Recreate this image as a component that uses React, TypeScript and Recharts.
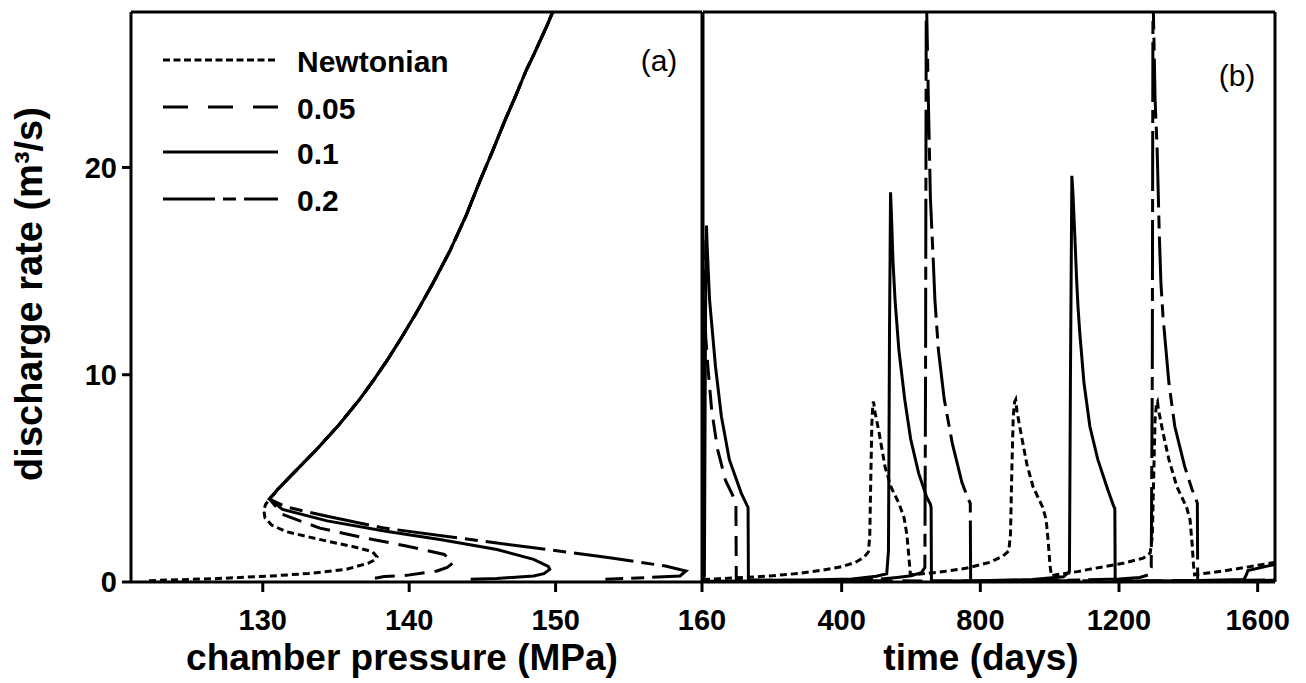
import React from 'react';
import { LineChart, Line, XAxis, YAxis, ReferenceLine, Legend } from 'recharts';

const FONT = '"Liberation Sans", Arial, Helvetica, sans-serif';

// ---------- labels / ticks ----------
const seriesNames = ['Newtonian', '0.05', '0.1', '0.2'];
const pressureTicks = [130, 140, 150, 160];
const timeTicks = [0, 400, 800, 1200, 1600];
const rateTicks = [0, 10, 20];

// ---------- panel (a): discharge rate vs chamber pressure [MPa, m3/s] ----------
const upperBranch: [number, number][] = [
  [150.1, 28.0], [149.8, 27.5], [149.45, 26.9], [149.0, 26.2], [148.55, 25.5], [148.0, 24.7],
  [147.3, 23.5], [146.5, 22.2], [145.7, 20.8], [144.86, 19.4], [143.9, 17.7], [142.8, 16.0],
  [141.65, 14.45], [140.5, 13.0], [139.5, 11.82], [138.5, 10.7], [137.55, 9.72], [136.6, 8.8],
  [135.2, 7.58], [133.66, 6.38], [131.87, 5.09], [131.0, 4.45], [130.46, 4.0],
];
const newtonianLower: [number, number][] = [
  [130.2, 3.75], [130.07, 3.48], [130.15, 3.1], [130.6, 2.75], [131.6, 2.43], [133.7, 2.08],
  [136.2, 1.7], [137.5, 1.46], [137.8, 1.22], [137.6, 1.05], [137.25, 0.92], [135.7, 0.61],
  [133.1, 0.41], [130.6, 0.29], [126.7, 0.16], [122.9, 0.08], [122.1, 0.05],
];
const n005Lower: [number, number][] = [
  [131.35, 3.26], [133.9, 2.6], [137.0, 2.12], [139.8, 1.74], [142.4, 1.33], [143.0, 0.93],
  [142.6, 0.7], [141.9, 0.53], [139.8, 0.32], [138.3, 0.26], [137.25, 0.13],
];
const n01Lower: [number, number][] = [
  [131.35, 3.5], [134.4, 2.95], [138.3, 2.46], [142.1, 2.05], [146.0, 1.57], [148.5, 1.09],
  [149.5, 0.75], [149.6, 0.61], [149.2, 0.4], [148.5, 0.29], [146.0, 0.17], [144.2, 0.13],
];
const n02Lower: [number, number][] = [
  [131.6, 3.62], [134.4, 3.17], [138.3, 2.6], [143.4, 2.12], [148.5, 1.65], [153.7, 1.17],
  [157.5, 0.77], [158.9, 0.53], [158.5, 0.29], [156.2, 0.21], [153.4, 0.13],
];

// ---------- panel (b): discharge rate vs time [days, m3/s] ----------
const newtonianTime: [number, number][] = [
  [0, 0.12], [60, 0.17], [120, 0.22], [200, 0.3], [280, 0.42], [340, 0.56], [400, 0.74],
  [440, 0.95], [465, 1.2], [477, 1.45], [481, 2.2], [484, 5.0], [487, 7.6], [490, 8.6],
  [492, 8.7], [495, 8.3], [508, 7.2], [525, 5.57], [542, 4.6], [565, 3.8], [580, 3.1],
  [588, 2.3], [594, 1.2], [598, 0.4], [605, 0.35], [650, 0.42], [700, 0.52], [758, 0.66],
  [828, 0.95], [865, 1.25], [882, 1.5], [887, 2.3], [891, 5.5], [895, 8.0], [899, 8.7],
  [902, 8.8], [906, 8.2], [917, 7.2], [934, 5.7], [952, 4.6], [980, 3.6], [990, 3.0],
  [996, 1.9], [1001, 0.8], [1005, 0.3], [1030, 0.38], [1080, 0.5], [1116, 0.62], [1212, 0.9],
  [1270, 1.15], [1290, 1.4], [1296, 2.2], [1300, 5.0], [1304, 7.8], [1308, 8.6], [1311, 8.7],
  [1314, 8.3], [1327, 7.2], [1344, 5.9], [1367, 4.6], [1395, 3.6], [1405, 3.0], [1411, 1.8],
  [1415, 0.8], [1418, 0.35], [1450, 0.42], [1500, 0.53], [1577, 0.74], [1650, 0.95],
];
const n005Time: [number, number][] = [
  [0, 16.5], [3, 13.8], [8, 11.8], [14, 10.4], [25, 8.3], [42, 6.4], [65, 4.9], [88, 4.1],
  [95, 3.7], [96, 0.1], [400, 0.06], [800, 0.05], [1200, 0.06], [1650, 0.08],
];
const n01Time: [number, number][] = [
  [0, 0.1], [4, 0.3], [6, 8], [8, 15], [10, 17.2], [12, 16.2], [19, 13.6], [36, 10.4],
  [53, 8.0], [76, 5.9], [110, 4.3], [127, 3.7], [130, 3.6], [131, 0.08], [300, 0.1],
  [430, 0.15], [500, 0.28], [530, 0.4], [535, 1.5], [538, 12], [541, 18.8], [544, 17.5],
  [548, 15.5], [554, 13.6], [565, 11.2], [582, 8.8], [599, 6.9], [622, 5.25], [645, 4.1],
  [656, 3.75], [658, 3.6], [659, 0.05], [800, 0.06], [950, 0.12], [1040, 0.25], [1057, 0.5],
  [1060, 10], [1064, 19.6], [1067, 18.8], [1072, 16.9], [1078, 14.5], [1082, 13.2],
  [1087, 12.0], [1099, 9.6], [1116, 7.5], [1139, 5.9], [1168, 4.44], [1185, 3.64],
  [1188, 3.55], [1189, 0.05], [1400, 0.06], [1560, 0.12], [1566, 0.3], [1572, 0.55],
  [1650, 0.85],
];
const n02Time: [number, number][] = [
  [0, 0.04], [300, 0.06], [500, 0.12], [560, 0.22], [600, 0.3], [630, 0.45], [640, 0.7],
  [642, 10], [644, 28.5], [646, 27], [650, 23.3], [656, 18.5], [665, 15.2], [669, 13.6],
  [679, 11.2], [696, 8.8], [719, 6.7], [747, 4.8], [765, 4.0], [771, 3.8], [772, 0.05],
  [950, 0.07], [1100, 0.1], [1200, 0.15], [1260, 0.22], [1285, 0.35], [1293, 0.7],
  [1296, 10], [1298, 28.5], [1301, 26], [1304, 23.3], [1310, 20.9], [1316, 16.9],
  [1321, 14.4], [1327, 12.8], [1344, 9.6], [1361, 7.5], [1389, 5.6], [1410, 4.5],
  [1422, 4.0], [1426, 3.8], [1427, 0.05], [1650, 0.1],
];

// ---------- build series ----------
const toPQ = (pts: [number, number][]) => pts.map(([p, q]) => ({ p, q }));
const toTQ = (pts: [number, number][]) => pts.map(([t, q]) => ({ t, q }));

const pressureSeries = [
  toPQ([...upperBranch, ...newtonianLower]),
  toPQ([...upperBranch, ...n005Lower]),
  toPQ([...upperBranch, ...n01Lower]),
  toPQ([...upperBranch, ...n02Lower]),
];
const timeSeries = [toTQ(newtonianTime), toTQ(n005Time), toTQ(n01Time), toTQ(n02Time)];

// ---------- styles ----------
const plotDash = ['7 4', '20 10', undefined, '60 8 13 8'];
const legendDash = ['7 3.5', '25 20', undefined, '52 8 13 8 60'];
const LW = 3;
const tickStyle = { fontSize: 29, fontWeight: 700, fill: '#000', fontFamily: FONT };
const axisLineStyle = { stroke: '#000', strokeWidth: LW };
const titleStyle: React.CSSProperties = { fontSize: 37, fontWeight: 700, fontFamily: FONT };

const LegendA = () => {
  const rows = [30, 77, 122, 169];
  return (
    <svg width={560} height={200} style={{ overflow: 'visible', display: 'block' }}>
      {seriesNames.map((name, i) => (
        <g key={name}>
          <line x1={13} x2={128} y1={rows[i]} y2={rows[i]} stroke="#000" strokeWidth={LW}
            strokeDasharray={legendDash[i]} />
          <text x={147} y={rows[i] + 11.5} fontSize={30} fontWeight={700} fontFamily={FONT} fill="#000">
            {name}
          </text>
        </g>
      ))}
      <text x={509} y={41} fontSize={30} fontFamily={FONT} fill="#000" textAnchor="middle">(a)</text>
    </svg>
  );
};

const LegendB = () => (
  <svg width={100} height={80} style={{ overflow: 'visible', display: 'block' }}>
    <text x={39} y={56} fontSize={30} fontFamily={FONT} fill="#000" textAnchor="middle">(b)</text>
  </svg>
);

const XTitleA = () => (
  <text x={402} y={670} textAnchor="middle" fill="#000" style={titleStyle}>chamber pressure (MPa)</text>
);
const XTitleB = () => (
  <text x={283} y={670} textAnchor="middle" fill="#000" style={titleStyle}>time (days)</text>
);
const YTitle = () => (
  <text x={42} y={294} transform="rotate(-90, 42, 294)" textAnchor="middle" fill="#000"
    style={{ ...titleStyle, fontSize: 38 }}>
    discharge rate (m³/s)
  </text>
);

export default function App() {
  return (
    <div style={{ position: 'absolute', left: 0, top: 0, width: 1306, height: 683, background: '#fff' }}>
      <div style={{ position: 'absolute', left: 0, top: 0 }}>
        <LineChart width={740} height={683} margin={{ top: 12, right: 38, bottom: 0, left: 0 }}>
          <XAxis type="number" dataKey="p" domain={[121, 160]} ticks={pressureTicks} allowDataOverflow
            height={101} tickSize={10} tickMargin={17} tick={tickStyle} axisLine={axisLineStyle}
            tickLine={axisLineStyle} label={XTitleA} />
          <YAxis type="number" domain={[0, 27.5]} ticks={rateTicks} allowDataOverflow width={131}
            tickSize={9} tickMargin={5} tick={tickStyle} axisLine={axisLineStyle} tickLine={axisLineStyle}
            label={YTitle} />
          <ReferenceLine y={27.5} stroke="#000" strokeWidth={LW} />
          <ReferenceLine x={160} stroke="#000" strokeWidth={LW} />
          {pressureSeries.map((d, i) => (
            <Line key={seriesNames[i]} data={d} dataKey="q" type="linear" stroke="#000" strokeWidth={LW}
              strokeDasharray={plotDash[i]} dot={false} activeDot={false} isAnimationActive={false}
              name={seriesNames[i]} />
          ))}
          <Legend layout="horizontal" verticalAlign="middle" align="center" content={LegendA}
            wrapperStyle={{ position: 'absolute', left: 150, top: 30, width: 560, height: 200 }} />
        </LineChart>
      </div>
      <div style={{ position: 'absolute', left: 698, top: 0 }}>
        <LineChart width={608} height={683} margin={{ top: 12, right: 31, bottom: 0, left: 0 }}>
          <XAxis type="number" dataKey="t" domain={[0, 1650]} ticks={timeTicks} allowDataOverflow
            height={101} tickSize={10} tickMargin={17} tick={tickStyle} axisLine={axisLineStyle}
            tickLine={axisLineStyle} label={XTitleB} />
          <YAxis type="number" domain={[0, 27.5]} ticks={rateTicks} allowDataOverflow width={5}
            tick={false} tickLine={false} axisLine={axisLineStyle} />
          <ReferenceLine y={27.5} stroke="#000" strokeWidth={LW} />
          <ReferenceLine x={1650} stroke="#000" strokeWidth={LW} />
          {timeSeries.map((d, i) => (
            <Line key={seriesNames[i]} data={d} dataKey="q" type="linear" stroke="#000" strokeWidth={LW}
              strokeDasharray={plotDash[i]} dot={false} activeDot={false} isAnimationActive={false}
              name={seriesNames[i]} />
          ))}
          <Legend layout="horizontal" verticalAlign="middle" align="center" content={LegendB}
            wrapperStyle={{ position: 'absolute', left: 500, top: 30, width: 100, height: 80 }} />
        </LineChart>
      </div>
    </div>
  );
}
